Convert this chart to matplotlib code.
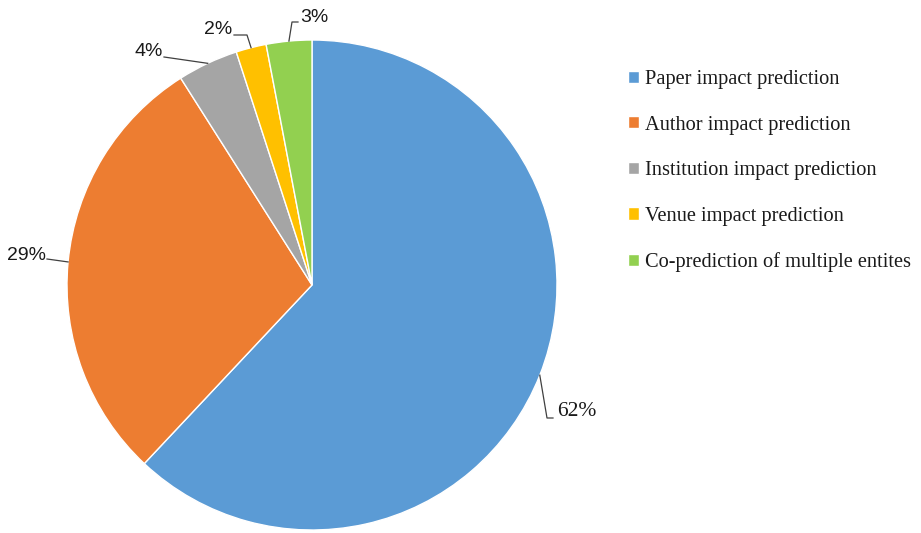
import numpy as np
import matplotlib.pyplot as plt

# share of studies per prediction target (%)
categories = ["Paper impact prediction", "Author impact prediction",
              "Institution impact prediction", "Venue impact prediction",
              "Co-prediction of multiple entites"]
shares = [62, 29, 4, 2, 3]
colors = ["#5B9BD5", "#ED7D31", "#A5A5A5", "#FFC000", "#92D050"]

W, H = 921, 533
fig = plt.figure(figsize=(W / 100, H / 100), dpi=100)

# pie centred at (312, 285) px, radius 245 px
cx, cy, R = 312, 285, 245
ax = fig.add_axes([(cx - R) / W, (H - cy - R) / H, 2 * R / W, 2 * R / H])
wedges, _ = ax.pie(shares, colors=colors, startangle=90, counterclock=False,
                   radius=1.0, wedgeprops=dict(edgecolor="white", linewidth=1))
ax.set_xlim(-1, 1)
ax.set_ylim(-1, 1)
ax.set_aspect("equal")
ax.axis("off")


def px(x, y):
    # pixel position -> pie data coords
    return (x - cx) / R, (cy - y) / R


# label text position, elbow points (px), horizontal alignment, font family
label_layout = [
    ((557, 411), [(553, 418), (547, 418)], "left", "Liberation Serif", 15.5),
    ((46, 256), [(47, 259)], "right", "Liberation Sans", 14),
    ((163, 52), [(164, 57)], "right", "Liberation Sans", 14),
    ((232, 30), [(234, 35), (247, 35)], "right", "Liberation Sans", 14),
    ((300, 17), [(298, 22), (292, 22)], "left", "Liberation Sans", 14),
]

for w, val, (tpos, elbows, ha, fam, fs) in zip(wedges, shares, label_layout):
    mid = np.deg2rad((w.theta1 + w.theta2) / 2)
    anchor = (np.cos(mid), np.sin(mid))
    pts = [px(*p) for p in elbows] + [anchor]
    ax.plot([p[0] for p in pts], [p[1] for p in pts], color="#404040",
            lw=0.9, clip_on=False)
    tx, ty = px(*tpos)
    ax.text(tx, ty, f"{val}%", ha=ha, va="center", family=fam, fontsize=fs,
            color="#1a1a1a", clip_on=False)

leg = ax.legend(wedges, categories, loc="upper left",
                bbox_to_anchor=(628 / W, 1 - 70 / H), bbox_transform=fig.transFigure,
                frameon=False, borderpad=0, borderaxespad=0,
                handlelength=0.55, handleheight=0.55, handletextpad=0.3,
                labelspacing=1.3, prop={"family": "Liberation Serif", "size": 14.7})
for t in leg.get_texts():
    t.set_color("#1a1a1a")

fig.savefig("out.png", dpi=100)
